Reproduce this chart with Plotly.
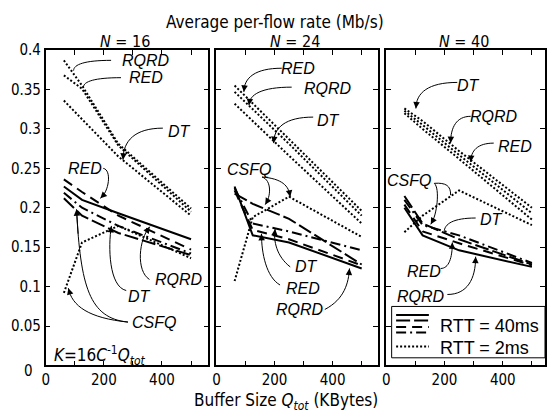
import plotly.graph_objects as go

W, H = 547, 417

# ---------------- data ----------------
buffer_kb = [62.5, 125, 250, 500]
panel_titles = ["<i>N</i> = 16", "<i>N</i> = 24", "<i>N</i> = 40"]
x_tickvals = [0, 200, 400]
x_ticktext = ["0", "200", "400"]
x_minor_ticks = [100, 300, 500]
y_tickvals = [0.05, 0.1, 0.15, 0.2, 0.25, 0.3, 0.35, 0.4]
y_ticktext = ["0.05", "0.1", "0.15", "0.2", "0.25", "0.3", "0.35", "0.4"]

# N = 16
n16_rqrd_2ms = [0.387, 0.355, 0.281, 0.199]
n16_red_2ms = [0.368, 0.351, 0.279, 0.195]
n16_dt_2ms = [0.336, 0.312, 0.265, 0.19]
n16_csfq_2ms = [0.092, 0.156, 0.177, 0.136]
n16_rqrd_40ms = [0.227, 0.21, 0.193, 0.16]
n16_red_40ms = [0.236, 0.22, 0.19, 0.147]
n16_dt_40ms = [0.219, 0.2, 0.177, 0.142]
n16_csfq_40ms = [0.212, 0.19, 0.168, 0.14]

# N = 24
n24_rqrd_2ms = [0.347, 0.325, 0.281, 0.19]
n24_red_2ms = [0.355, 0.332, 0.287, 0.196]
n24_dt_2ms = [0.332, 0.31, 0.266, 0.18]
n24_csfq_2ms = [0.107, 0.188, 0.214, 0.163]
n24_rqrd_40ms = [0.227, 0.165, 0.156, 0.123]
n24_red_40ms = [0.222, 0.172, 0.16, 0.127]
n24_dt_40ms = [0.225, 0.18, 0.17, 0.146]
n24_csfq_40ms = [0.218, 0.205, 0.186, 0.128]

# N = 40
n40_rqrd_2ms = [0.323, 0.305, 0.267, 0.193]
n40_red_2ms = [0.32, 0.3, 0.262, 0.185]
n40_dt_2ms = [0.326, 0.31, 0.272, 0.2]
n40_csfq_2ms = [0.169, 0.19, 0.222, 0.178]
n40_rqrd_40ms = [0.2, 0.165, 0.146, 0.125]
n40_red_40ms = [0.204, 0.17, 0.155, 0.127]
n40_dt_40ms = [0.21, 0.178, 0.165, 0.13]
n40_csfq_40ms = [0.215, 0.18, 0.16, 0.128]

panels = [
    [n16_rqrd_2ms, n16_red_2ms, n16_dt_2ms, n16_csfq_2ms,
     n16_rqrd_40ms, n16_red_40ms, n16_dt_40ms, n16_csfq_40ms],
    [n24_rqrd_2ms, n24_red_2ms, n24_dt_2ms, n24_csfq_2ms,
     n24_rqrd_40ms, n24_red_40ms, n24_dt_40ms, n24_csfq_40ms],
    [n40_rqrd_2ms, n40_red_2ms, n40_dt_2ms, n40_csfq_2ms,
     n40_rqrd_40ms, n40_red_40ms, n40_dt_40ms, n40_csfq_40ms],
]
series_names = ["RQRD 2ms", "RED 2ms", "DT 2ms", "CSFQ 2ms",
                "RQRD 40ms", "RED 40ms", "DT 40ms", "CSFQ 40ms"]
series_dash = ["2px,2px"] * 4 + ["solid", "10px,6px", "10px,4px,2px,4px", "14px,4px"]

# labels: (panel, text, x, y)
labels = [
    (0, "RQRD", 345, 0.387), (0, "RED", 345, 0.365), (0, "DT", 461, 0.297),
    (0, "RED", 136, 0.25), (0, "RQRD", 460, 0.109), (0, "DT", 323, 0.087),
    (0, "CSFQ", 374, 0.055),
    (1, "RED", 282, 0.377), (1, "RQRD", 385, 0.351), (1, "DT", 385, 0.311),
    (1, "CSFQ", 112, 0.249), (1, "DT", 311, 0.125), (1, "RED", 299, 0.098),
    (1, "RQRD", 288, 0.071),
    (2, "DT", 284, 0.355), (2, "RQRD", 369, 0.316), (2, "RED", 443, 0.278),
    (2, "CSFQ", 80, 0.235), (2, "DT", 363, 0.185), (2, "RED", 131, 0.119),
    (2, "RQRD", 119, 0.087),
]
# arrows: (panel, start, ctrl1, ctrl2, tip) ; ctrl None -> generic
arrows = [
    (0, (225, 0.387), None, None, (96, 0.374)),
    (0, (259, 0.365), None, None, (130, 0.353)),
    (0, (403, 0.301), None, None, (266, 0.261)),
    (0, (198, 0.25), (228, 0.248), (218, 0.22), (188, 0.212)),
    (0, (357, 0.109), (310, 0.12), (320, 0.16), (358, 0.176)),
    (0, (277, 0.095), (218, 0.1), (214, 0.15), (226, 0.177)),
    (0, (283, 0.055), (150, 0.06), (90, 0.075), (78, 0.098)),
    (0, (283, 0.055), (150, 0.06), (120, 0.1), (106, 0.198)),
    (1, (225, 0.377), None, None, (94.5, 0.347)),
    (1, (259, 0.353), None, None, (112, 0.33)),
    (1, (333, 0.315), None, None, (197, 0.282)),
    (1, (157, 0.239), (191, 0.235), (188, 0.214), (168, 0.204)),
    (1, (157, 0.239), (225, 0.237), (250, 0.228), (254, 0.214)),
    (1, (254, 0.125), (208, 0.138), (195, 0.158), (202, 0.173)),
    (1, (219, 0.102), (172, 0.112), (155, 0.142), (155, 0.167)),
    (1, (373, 0.071), (441, 0.084), (455, 0.105), (458, 0.123)),
    (2, (244, 0.359), None, None, (102, 0.326)),
    (2, (290, 0.316), None, None, (221, 0.282)),
    (2, (369, 0.282), None, None, (290, 0.258)),
    (2, (165, 0.231), (205, 0.232), (222, 0.228), (221, 0.216)),
    (2, (165, 0.231), (185, 0.225), (175, 0.19), (153, 0.179)),
    (2, (307, 0.187), None, None, (199, 0.169)),
    (2, (187, 0.123), None, None, (227, 0.156)),
    (2, (210, 0.09), None, None, (307, 0.138)),
]

# ---------------- layout geometry ----------------
def px_x(p):
    return p / W

def px_y(p):
    return 1 - p / H

x_domains = [(42, 206), (214, 377), (385, 545)]
x_ranges = [[0, 560], [0, 557], [0, 545]]
y_domain = [px_y(364.3), px_y(42)]

FONT = "Tahoma, DejaVu Sans Condensed, Liberation Sans, sans-serif"
IFONT = "Liberation Sans, Arial, sans-serif"

fig = go.Figure()
layout = dict(width=W, height=H, margin=dict(l=0, r=0, t=0, b=0),
              paper_bgcolor="white", plot_bgcolor="white", showlegend=False,
              font=dict(family=FONT, size=15, color="black"))

for i in range(3):
    xa = "xaxis" if i == 0 else f"xaxis{i+1}"
    ya = "yaxis" if i == 0 else f"yaxis{i+1}"
    xr = "x" if i == 0 else f"x{i+1}"
    yr = "y" if i == 0 else f"y{i+1}"
    layout[xa] = dict(domain=[px_x(x_domains[i][0]), px_x(x_domains[i][1])],
                      range=x_ranges[i], anchor=yr, showgrid=False, zeroline=False,
                      showline=True, linecolor="black", linewidth=1.5, mirror="ticks",
                      ticks="inside", ticklen=5, tickcolor="black", tickwidth=1,
                      tickvals=x_tickvals, ticktext=x_ticktext,
                      minor=dict(tickvals=x_minor_ticks, ticks="inside", ticklen=5,
                                 tickcolor="black", tickwidth=1, showgrid=False),
                      tickfont=dict(size=15, family=FONT))
    layout[ya] = dict(domain=y_domain, range=[0, 0.4], anchor=xr, showgrid=False,
                      zeroline=False, showline=True, linecolor="black", linewidth=1.5,
                      mirror="ticks", ticks="inside", ticklen=5, tickcolor="black",
                      tickwidth=1, tickvals=y_tickvals, ticktext=y_ticktext,
                      showticklabels=(i == 0),
                      tickfont=dict(size=15, family=FONT))
    for s, ys in enumerate(panels[i]):
        fig.add_trace(go.Scatter(x=buffer_kb, y=ys, mode="lines", name=series_names[s],
                                 xaxis=xr, yaxis=yr,
                                 line=dict(color="black", width=2, dash=series_dash[s])))

fig.update_layout(**layout)

anns = []
shapes = []

def refs(p):
    return ("x" if p == 0 else f"x{p+1}", "y" if p == 0 else f"y{p+1}")

for p, t, x, y in labels:
    xr, yr = refs(p)
    anns.append(dict(x=x, y=y, xref=xr, yref=yr, text=f"<i>{t}</i>", showarrow=False,
                     xanchor="center", yanchor="middle",
                     font=dict(family=IFONT, size=16, color="black")))

for p, s, c1, c2, t in arrows:
    xr, yr = refs(p)
    if c1 is None:
        c1 = (s[0] + (t[0] - s[0]) * 0.7, s[1])
    if c2 is None:
        c2 = (t[0], t[1] + (s[1] - t[1]) * 0.6)
    path = f"M {s[0]},{s[1]} C {c1[0]},{c1[1]} {c2[0]},{c2[1]} {t[0]},{t[1]}"
    shapes.append(dict(type="path", path=path, xref=xr, yref=yr,
                       line=dict(color="black", width=1)))
    u = 0.88
    bx = ((1-u)**3)*s[0] + 3*((1-u)**2)*u*c1[0] + 3*(1-u)*u*u*c2[0] + u**3*t[0]
    by = ((1-u)**3)*s[1] + 3*((1-u)**2)*u*c1[1] + 3*(1-u)*u*u*c2[1] + u**3*t[1]
    anns.append(dict(x=t[0], y=t[1], xref=xr, yref=yr, ax=bx, ay=by, axref=xr, ayref=yr,
                     text="", showarrow=True, arrowhead=2, arrowsize=1.3, arrowwidth=1,
                     arrowcolor="black", standoff=0))

# titles
anns.append(dict(x=px_x(273), y=px_y(13), xref="paper", yref="paper",
                 text="Average per-flow rate (Mb/s)", showarrow=False,
                 font=dict(family=FONT, size=17), xanchor="center", yanchor="middle"))
for i in range(3):
    cx = (x_domains[i][0] + x_domains[i][1]) / 2
    anns.append(dict(x=px_x(cx - 2), y=px_y(33), xref="paper", yref="paper",
                     text=panel_titles[i], showarrow=False,
                     font=dict(family=FONT, size=16), xanchor="center", yanchor="middle"))
anns.append(dict(x=px_x(284), y=px_y(401), xref="paper", yref="paper",
                 text="Buffer Size <i>Q<sub>tot</sub></i> (KBytes)", showarrow=False,
                 font=dict(family=FONT, size=17), xanchor="center", yanchor="middle"))
anns.append(dict(x=px_x(25), y=px_y(370), xref="paper", yref="paper", text="0",
                 showarrow=False, font=dict(family=FONT, size=15),
                 xanchor="center", yanchor="middle"))
anns.append(dict(x=px_x(48), y=px_y(354), xref="paper", yref="paper",
                 text="<i>K</i>=16<i>C</i><sup>-1</sup><i>Q<sub>tot</sub></i>",
                 showarrow=False, font=dict(family=FONT, size=17),
                 xanchor="left", yanchor="middle"))

# legend box
shapes.append(dict(type="rect", xref="paper", yref="paper", x0=px_x(390.5), x1=px_x(545),
                   y0=px_y(356.5), y1=px_y(304), line=dict(color="black", width=1),
                   fillcolor="white"))
leg_styles = [("solid", 312.7), ("14px,4px", 318.3), ("10px,6px", 325), ("10px,4px,2px,4px", 330.7)]
for d, yy in leg_styles:
    shapes.append(dict(type="line", xref="paper", yref="paper", x0=px_x(395), x1=px_x(428),
                       y0=px_y(yy), y1=px_y(yy), line=dict(color="black", width=2, dash=d)))
shapes.append(dict(type="line", xref="paper", yref="paper", x0=px_x(395), x1=px_x(428),
                   y0=px_y(345), y1=px_y(345), line=dict(color="black", width=2, dash="2px,2px")))
anns.append(dict(x=px_x(437), y=px_y(324), xref="paper", yref="paper", text="RTT = 40ms",
                 showarrow=False, font=dict(family=IFONT, size=18), xanchor="left",
                 yanchor="middle"))
anns.append(dict(x=px_x(437), y=px_y(346), xref="paper", yref="paper", text="RTT = 2ms",
                 showarrow=False, font=dict(family=IFONT, size=18), xanchor="left",
                 yanchor="middle"))

fig.update_layout(annotations=anns, shapes=shapes)
fig.write_html("out.html")
